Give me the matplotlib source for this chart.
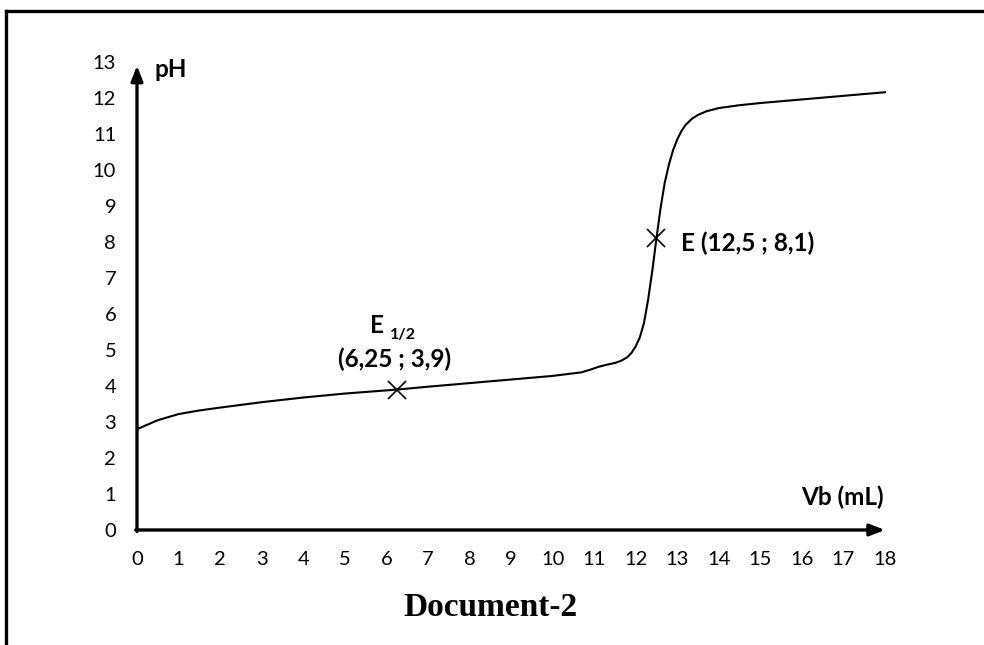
import matplotlib
matplotlib.use("Agg")
import matplotlib.pyplot as plt
from matplotlib.lines import Line2D

# titration curve
vb = [0, 0.5, 1, 1.5, 2, 3, 4, 5, 6.25, 7, 8, 9, 10, 10.7, 10.9, 11.1, 11.3,
      11.5, 11.65, 11.8, 11.9, 12.0, 12.1, 12.2, 12.3, 12.4, 12.5, 12.6, 12.7,
      12.8, 12.9, 13.0, 13.1, 13.2, 13.35, 13.5, 13.7, 14.0, 14.5, 15, 16, 17, 18]
ph = [2.8, 3.05, 3.22, 3.32, 3.4, 3.55, 3.68, 3.79, 3.9, 3.98, 4.08, 4.18,
      4.28, 4.38, 4.45, 4.53, 4.59, 4.64, 4.7, 4.8, 4.92, 5.1, 5.35, 5.75,
      6.4, 7.2, 8.1, 8.95, 9.65, 10.15, 10.55, 10.85, 11.08, 11.25, 11.42,
      11.53, 11.63, 11.72, 11.8, 11.86, 11.96, 12.06, 12.16]

eq_half = (6.25, 3.9)
eq = (12.5, 8.1)

x_ticks = list(range(0, 19))
y_ticks = list(range(0, 14))

W, H = 984, 645
fig = plt.figure(figsize=(W / 100, H / 100), dpi=100)
fig.patch.set_facecolor("white")

# frame (top and left borders only)
fig.add_artist(Line2D([6 / W, 1.0], [1 - 11 / H, 1 - 11 / H], color="black", lw=2.4))
fig.add_artist(Line2D([6 / W, 6 / W], [0, 1 - 11 / H], color="black", lw=2.4))

ax = fig.add_axes([137 / W, (H - 530) / H, 748 / W, 468 / H])
ax.set_xlim(0, 18)
ax.set_ylim(0, 13)
for s in ax.spines.values():
    s.set_visible(False)

tick_font = dict(family="Lato", size=14.5)
ax.set_xticks(x_ticks)
ax.set_yticks(y_ticks)
ax.set_xticklabels([str(t) for t in x_ticks], **tick_font)
ax.set_yticklabels([str(t) for t in y_ticks], **tick_font)
ax.tick_params(length=0, pad=15)

# axes with arrows
arrow = dict(arrowstyle="-|>,head_length=0.9,head_width=0.35", color="black", lw=2.4,
             shrinkA=0, shrinkB=0)
ax.annotate("", xy=(18, 0), xytext=(-0.03, 0), arrowprops=arrow, annotation_clip=False)
ax.annotate("", xy=(0, 12.9), xytext=(0, -0.04), arrowprops=arrow, annotation_clip=False)

ax.plot(vb, ph, color="black", lw=1.5, clip_on=False, solid_joinstyle="round")
ax.plot(*eq_half, marker="x", color="black", markersize=13, mew=1.2)
ax.plot(*eq, marker="x", color="black", markersize=13, mew=1.2)

bold = dict(family="Lato", weight="bold", size=17.5)
ax.text(0.43, 12.78, "pH", ha="left", va="center", **bold)
ax.text(15.99, 0.9, "Vb (mL)", ha="left", va="center", **bold)
ax.text(13.1, 7.97, "E (12,5 ; 8,1)", ha="left", va="center", **bold)
ax.text(5.78, 5.69, "E", ha="center", va="center", **bold)
ax.text(6.08, 5.42, "1/2", ha="left", va="center", family="Lato", weight="bold", size=11.5)
ax.text(6.2, 4.75, "(6,25 ; 3,9)", ha="center", va="center", **bold)

fig.text(490 / W, 1 - 608 / H, "Document-2", ha="center", va="center",
         family="Liberation Serif", weight="bold", size=24)

fig.savefig("out.png", dpi=100)
